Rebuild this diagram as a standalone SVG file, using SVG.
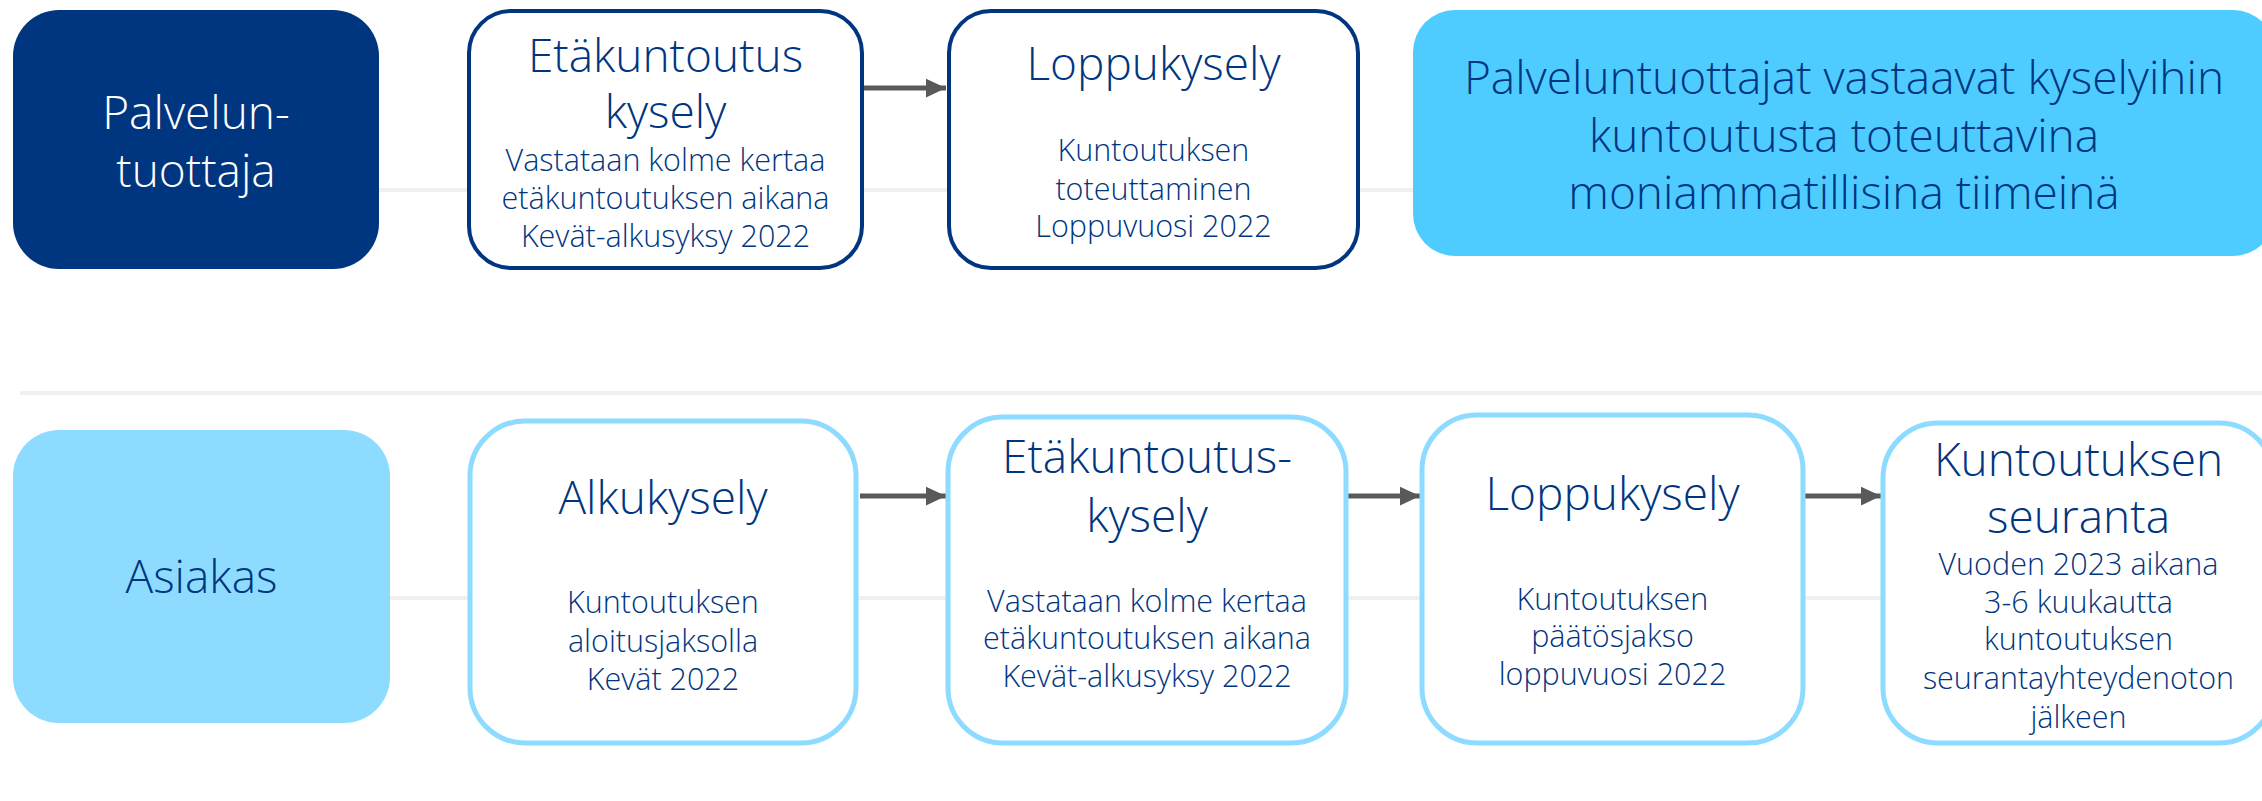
<svg xmlns="http://www.w3.org/2000/svg" width="2262" height="801" viewBox="0 0 2262 801">
<defs>
<style>
text{font-family:"Open Sans","Noto Sans","Liberation Sans",sans-serif;font-weight:300;text-anchor:middle;fill:#003580}
.t{font-size:46px}
.s{font-size:30.5px}
.w{fill:#ffffff}
.grid{stroke:#f0f0f0;stroke-width:4}
.dk{fill:#003580}
.ob{fill:#ffffff;stroke:#003580;stroke-width:4}
.lb{fill:#ffffff;stroke:#8ddcff;stroke-width:5}
.conn{stroke:#595959;stroke-width:5;fill:none;marker-end:url(#ah)}
</style>
<marker id="ah" markerWidth="4" markerHeight="4" refX="3.2" refY="1.5" orient="auto" markerUnits="strokeWidth" viewBox="0 0 3.2 3">
<path d="M0,0 L3.2,1.5 L0,3 z" fill="#595959"/>
</marker>
</defs>
<rect width="2262" height="801" fill="#ffffff"/>
<g id="grid">
<line class="grid" x1="300" y1="190" x2="2262" y2="190"/>
<line class="grid" x1="20" y1="393" x2="2262" y2="393"/>
<line class="grid" x1="300" y1="598" x2="2262" y2="598"/>
</g>
<g id="connectors">
<line class="conn" x1="862" y1="88" x2="946" y2="88"/>
<line class="conn" x1="860" y1="496" x2="946" y2="496"/>
<line class="conn" x1="1339" y1="496" x2="1420" y2="496"/>
<line class="conn" x1="1805" y1="496" x2="1881" y2="496"/>
</g>
<g id="palveluntuottaja">
<rect class="dk" x="13" y="10" width="366" height="259" rx="46"/>
<text class="t w" x="196" y="129">Palvelun-</text>
<text class="t w" x="196" y="187">tuottaja</text>
</g>
<g id="top-etakuntoutus">
<rect class="ob" x="469" y="11" width="393" height="257" rx="42"/>
<text class="t" x="665.5" y="72">Etäkuntoutus</text>
<text class="t" x="665.5" y="128">kysely</text>
<text class="s" x="665.5" y="171">Vastataan kolme kertaa</text>
<text class="s" x="665.5" y="209">etäkuntoutuksen aikana</text>
<text class="s" x="665.5" y="247">Kevät-alkusyksy 2022</text>
</g>
<g id="top-loppukysely">
<rect class="ob" x="949" y="11" width="409" height="257" rx="42"/>
<text class="t" x="1153.5" y="80">Loppukysely</text>
<text class="s" x="1153.5" y="161">Kuntoutuksen</text>
<text class="s" x="1153.5" y="200">toteuttaminen</text>
<text class="s" x="1153.5" y="237">Loppuvuosi 2022</text>
</g>
<g id="info">
<rect x="1413" y="10" width="862" height="246" rx="42" fill="#4fccff"/>
<text class="t" x="1844" y="94">Palveluntuottajat vastaavat kyselyihin</text>
<text class="t" x="1844" y="152">kuntoutusta toteuttavina</text>
<text class="t" x="1844" y="209">moniammatillisina tiimeinä</text>
</g>
<g id="asiakas">
<rect x="13" y="430" width="377" height="293" rx="46" fill="#8ddcff"/>
<text class="t" x="201.5" y="593">Asiakas</text>
</g>
<g id="alkukysely">
<rect class="lb" x="470" y="421" width="386" height="322" rx="55"/>
<text class="t" x="663" y="514">Alkukysely</text>
<text class="s" x="663" y="613">Kuntoutuksen</text>
<text class="s" x="663" y="652">aloitusjaksolla</text>
<text class="s" x="663" y="690">Kevät 2022</text>
</g>
<g id="bottom-etakuntoutus">
<rect class="lb" x="948" y="417" width="398" height="326" rx="55"/>
<text class="t" x="1147" y="473">Etäkuntoutus-</text>
<text class="t" x="1147" y="532">kysely</text>
<text class="s" x="1147" y="612">Vastataan kolme kertaa</text>
<text class="s" x="1147" y="649">etäkuntoutuksen aikana</text>
<text class="s" x="1147" y="687">Kevät-alkusyksy 2022</text>
</g>
<g id="bottom-loppukysely">
<rect class="lb" x="1422" y="415" width="381" height="328" rx="55"/>
<text class="t" x="1612.5" y="510">Loppukysely</text>
<text class="s" x="1612.5" y="610">Kuntoutuksen</text>
<text class="s" x="1612.5" y="647">päätösjakso</text>
<text class="s" x="1612.5" y="685">loppuvuosi 2022</text>
</g>
<g id="seuranta">
<rect class="lb" x="1883" y="423" width="391" height="320" rx="55"/>
<text class="t" x="2078.5" y="476">Kuntoutuksen</text>
<text class="t" x="2078.5" y="533">seuranta</text>
<text class="s" x="2078.5" y="575">Vuoden 2023 aikana</text>
<text class="s" x="2078.5" y="613">3-6 kuukautta</text>
<text class="s" x="2078.5" y="650">kuntoutuksen</text>
<text class="s" x="2078.5" y="689">seurantayhteydenoton</text>
<text class="s" x="2078.5" y="728">jälkeen</text>
</g>
</svg>
